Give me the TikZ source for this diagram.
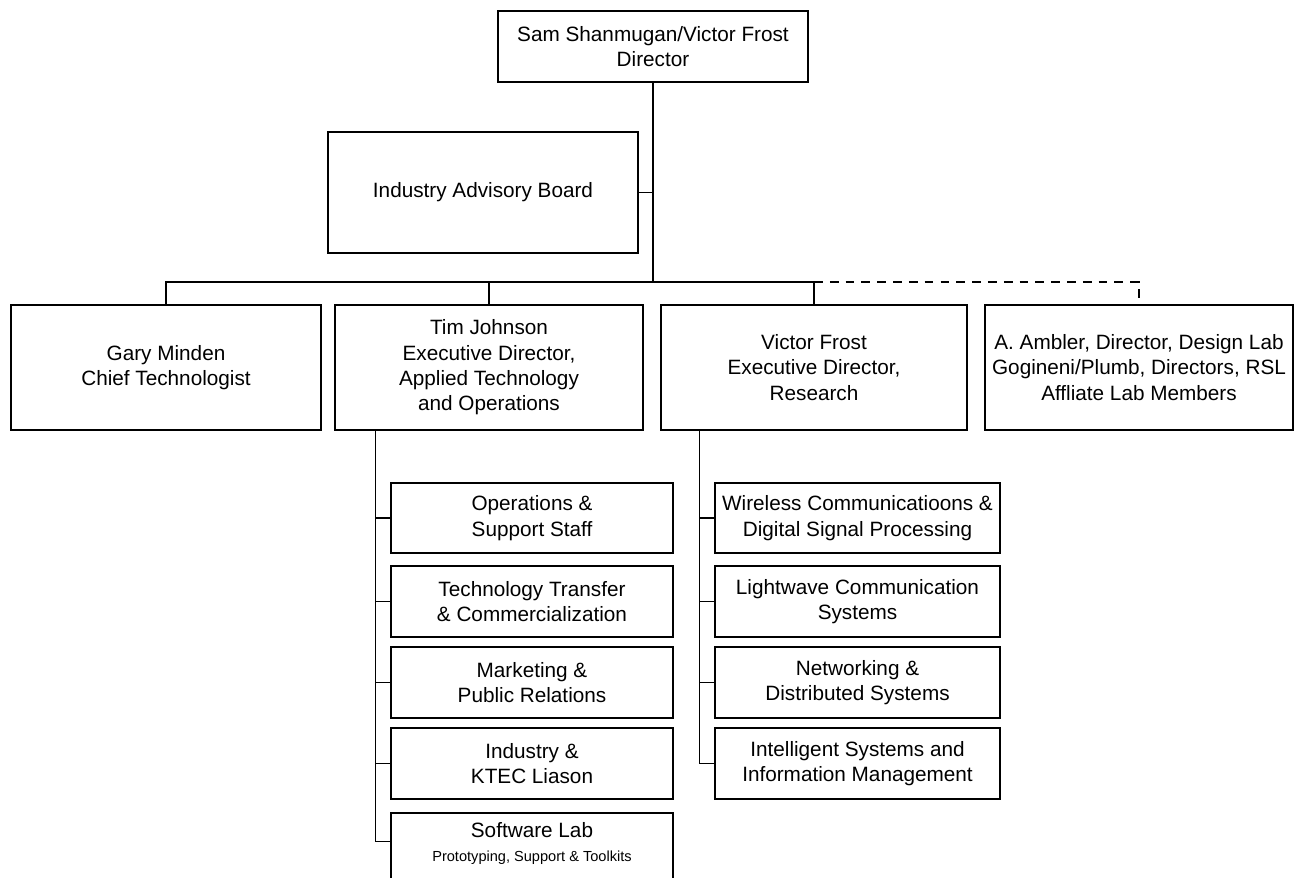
\documentclass[tikz,border=0pt]{standalone}
\usepackage{fontspec}
\setmainfont{Liberation Sans}
\begin{document}
\begin{tikzpicture}[x=0.02cm,y=-0.02cm,
  box/.style={draw, line width=0.75pt, inner sep=0pt, align=center, font=\fontsize{11.8}{14.4}\selectfont},
  link/.style={line width=0.75pt}]
\useasboundingbox (0,0) rectangle (1299,877);
\clip (0,0) rectangle (1299,877);
\newcommand\boxnode[6]{\node[box, minimum width={(#4-#2)*0.02cm}, minimum height={(#5-#3)*0.02cm}] (#1) at ({(#2+#4)/2},{(#3+#5)/2}) {#6};}
\boxnode{top}{498}{11}{808}{82}{Sam Shanmugan/Victor Frost\\Director}
\boxnode{adv}{328}{132}{638}{253}{Industry Advisory Board}
\boxnode{gary}{11}{305}{321}{430}{Gary Minden\\Chief Technologist}
\boxnode{tim}{335}{305}{643}{430}{Tim Johnson\\Executive Director,\\Applied Technology\\and Operations}
\boxnode{victor}{661}{305}{967}{430}{Victor Frost\\Executive Director,\\Research}
\boxnode{ambler}{985}{305}{1293}{430}{A. Ambler, Director, Design Lab\\Gogineni/Plumb, Directors, RSL\\Affliate Lab Members}
\boxnode{l1}{391}{483}{673}{553}{Operations \&\\Support Staff}
\boxnode{l2}{391}{566}{673}{637}{Technology Transfer\\\& Commercialization}
\boxnode{l3}{391}{647}{673}{718}{Marketing \&\\Public Relations}
\boxnode{l4}{391}{728}{673}{799}{Industry \&\\KTEC Liason}
\boxnode{l5}{391}{813}{673}{900}{}
\node[align=center, inner sep=0pt, anchor=north, font=\fontsize{11.8}{14.4}\selectfont] (l5t) at ([yshift=-0.2cm]l5.north) {Software Lab\\[-1pt]{\fontsize{8.3}{10}\selectfont Prototyping, Support \& Toolkits}};
\boxnode{r1}{715}{483}{1000}{553}{Wireless Communicatioons \&\\Digital Signal Processing}
\boxnode{r2}{715}{566}{1000}{637}{Lightwave Communication\\Systems}
\boxnode{r3}{715}{647}{1000}{718}{Networking \&\\Distributed Systems}
\boxnode{r4}{715}{728}{1000}{799}{Intelligent Systems and\\Information Management}
% bus
\coordinate (bus) at (top.south |- 0,282);
\draw[link] (top.south) -- (bus);
\draw[link] (adv.east) -- (adv.east -| bus);
\draw[link] (gary.north) |- (bus) -| (victor.north);
\draw[link] (tim.north) -- (tim.north |- bus);
\draw[link, dashed, dash pattern=on 5pt off 4pt] (victor.north |- bus) -| (ambler.north);
% left trunk
\coordinate (tt) at ([xshift=0.82cm]tim.south west);
\coordinate (l5c) at ([yshift=-0.58cm]l5.north west);
\draw[link] (tt) |- (l5c);
\foreach \n in {l1,l2,l3,l4} \draw[link] (\n.west) -- (\n.west -| tt);
% right trunk
\coordinate (vt) at ([xshift=0.78cm]victor.south west);
\draw[link] (vt) |- (r4.west);
\foreach \n in {r1,r2,r3} \draw[link] (\n.west) -- (\n.west -| vt);
\end{tikzpicture}
\end{document}
